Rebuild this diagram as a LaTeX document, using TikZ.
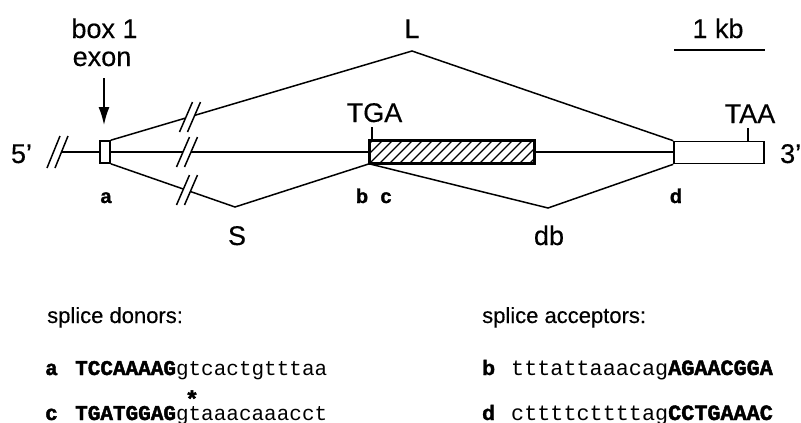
\documentclass[tikz,border=0pt]{standalone}
\usepackage{fontspec}
\setmainfont{Liberation Sans}[FakeBold=0.3, BoldFeatures={FakeBold=1.2}]
\newfontfamily\monof{Liberation Mono}[BoldFeatures={FakeBold=2}]
\usetikzlibrary{arrows.meta}
\newcommand\brkmark[2]{%
  \fill[white] (#1-6.5-4,#2+15) -- (#1+6.5-4,#2-15) -- (#1+6.5+4,#2-15) -- (#1-6.5+4,#2+15) -- cycle;
  \draw[ln] (#1-6.5-4,#2+15) -- (#1+6.5-4,#2-15);
  \draw[ln] (#1-6.5+4,#2+15) -- (#1+6.5+4,#2-15);}
\begin{document}
\begin{tikzpicture}[x=1pt,y=-1pt,
  big/.style={font=\fontsize{27}{31}\selectfont, inner sep=0, anchor=base},
  lbl/.style={font=\fontsize{20}{24}\selectfont\bfseries, inner sep=0, anchor=base},
  head/.style={font=\fontsize{22}{26}\selectfont, inner sep=0, anchor=base west},
  seqd/.style={font=\fontsize{21}{25}\selectfont\monof, inner sep=0, anchor=base west},
  seqa/.style={font=\fontsize{21.8}{25}\selectfont\monof, inner sep=0, anchor=base west},
  ln/.style={line width=1.5pt},
  boxs/.style={draw, line width=1.6pt, inner sep=0, fill=white},
]
\useasboundingbox (0,0) rectangle (801,423);

% gene boxes
\node[boxs, minimum width=10, minimum height=22] (exon) at (105,152) {};
\node[boxs, minimum width=164, minimum height=22] (cds) at (452,152) {};
\node[boxs, minimum width=90, minimum height=22] (utr) at (719,152.5) {};

% hatching
\begin{scope}
  \clip (370,141) rectangle (534,163);
  \foreach \i in {340,350,...,540} \draw[line width=1.1pt] (\i,163) -- ++(22,-22);
\end{scope}
\draw[line width=1.6pt] (cds.south west) rectangle (cds.north east);

% main line
\coordinate (start) at (61,152);
\draw[ln] (start) -- (exon.west);
\draw[ln] (exon.east) -- (cds.west);
\draw[ln] (cds.east) -- (cds.east -| utr.west);

% splice connectors
\coordinate (Lapex) at (412,51);
\coordinate (Sapex) at (235,207);
\coordinate (dbapex) at (548,208);
\draw[ln] (exon.north east) -- (Lapex) -- (utr.north west);
\draw[ln] (exon.south east) -- (Sapex) -- (cds.south west);
\draw[ln] (cds.south west) -- (dbapex) -- (utr.south west);

% break marks
\draw[ln] (53.5-6.5,152+16) -- (53.5+6.5,152-16);
\draw[ln] (61.5-6.5,152+16) -- (61.5+6.5,152-16);
\brkmark{187}{152}
\brkmark{190}{117}
\brkmark{187}{190}

% tick marks
\node[big] (tga) at (374.5,122) {TGA};
\draw[ln] (372,127) -- (372,141);
\node[big] (taa) at (750,123) {TAA};
\draw[ln] (748,128) -- (748,142);

% labels
\node[big] (box1) at (104.5,38) {box 1};
\node[big] (exonlbl) at (102,66) {exon};
\coordinate (arrtop) at (104,78);
\coordinate (arrend) at (104,125);
\draw[line width=1.5pt, -{Latex[length=18pt,width=11pt]}] (arrtop) -- (arrend);
\node[big] (five) at (21.5,163) {5'};
\node[big, anchor=base west] (three) at (780,163) {3'};
\node[big] (L) at (412,38) {L};
\node[big] (S) at (237,245) {S};
\node[big] (db) at (549,245) {db};
\node[big] (kb) at (718,38) {1 kb};
\draw[ln] (674,50) -- (765,50);

\node[lbl] (la) at (106,203) {a};
\node[lbl] (lb) at (362,203) {b};
\node[lbl] (lc) at (386,203) {c};
\node[lbl] (ld) at (676,203) {d};

% sequences
\node[head] (don) at (47,323) {splice donors:};
\node[head] (acc) at (482,323) {splice acceptors:};

\node[seqd] (sa) at (45,375) {\bfseries a};
\node[seqd] (seqa1) at (75,375) {{\bfseries TCCAAAAG}gtcactgtttaa};
\node[seqd] (sc) at (45,420) {\bfseries c};
\node[seqd] (seqc1) at (75,420) {{\bfseries TGATGGAG}gtaaacaaacct};
\node[font=\fontsize{23}{26}\selectfont\monof\bfseries, inner sep=0, anchor=base] (ast) at (192,407) {*};

\node[font=\fontsize{21}{25}\selectfont\bfseries, inner sep=0, anchor=base west] (sb) at (482,375) {b};
\node[seqa] (seqb1) at (511,375) {tttattaaacag{\bfseries AGAACGGA}};
\node[font=\fontsize{21}{25}\selectfont\bfseries, inner sep=0, anchor=base west] (sd) at (482,420) {d};
\node[seqa] (seqd1) at (511,420) {cttttcttttag{\bfseries CCTGAAAC}};
\end{tikzpicture}
\end{document}
